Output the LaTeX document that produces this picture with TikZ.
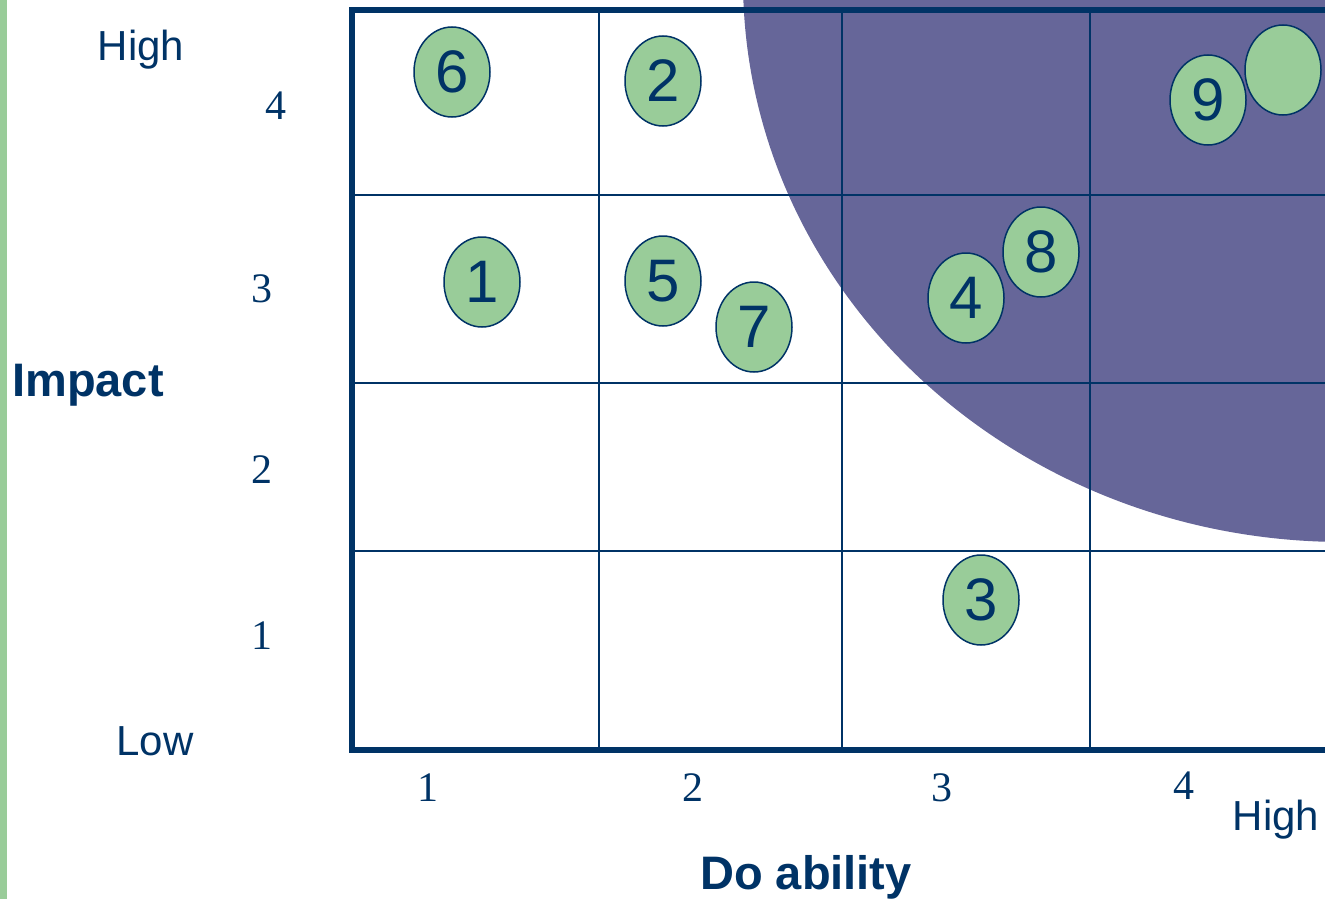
\documentclass[tikz,border=0pt]{standalone}
\usepackage{fontspec}
\setmainfont{Liberation Serif}
\setsansfont{Liberation Sans}
\usepackage{tikz}
\usetikzlibrary{shapes.geometric,positioning}
\definecolor{navy}{RGB}{0,51,102}
\definecolor{leafgreen}{RGB}{153,204,153}
\definecolor{slate}{RGB}{102,102,153}
\tikzset{
	bubble/.style={ellipse, draw=navy, line width=1.5pt, fill=leafgreen, minimum width=76pt, minimum height=90pt, inner sep=0pt, text=navy, font=\sffamily\fontsize{60}{60}\selectfont},
	ticklabel/.style={text=navy, font=\rmfamily\fontsize{42}{42}\selectfont},
	axislabel/.style={text=navy, font=\sffamily\fontsize{42}{42}\selectfont},
	axistitle/.style={text=navy, font=\sffamily\bfseries\fontsize{47}{47}\selectfont},
	gridline/.style={navy, line width=2.5pt},
	frameline/.style={navy, line width=6pt, line join=miter}
}

\begin{document}
\begin{tikzpicture}[x=1pt, y=-1pt]
					\useasboundingbox (0,0) rectangle (1325,899);
					\clip (0,0) rectangle (1325,899);
					% green strip on the left edge
					\fill[leafgreen] (0,0) rectangle (7,899);
					% priority zone
					\fill[slate] (1344,-20) ellipse (601 and 562);
					% grid
					\foreach \x in {599,842,1090} \draw[gridline] (\x,10) -- (\x,750);
					\foreach \y in {195,383,551} \draw[gridline] (352,\y) -- (1335,\y);
					\draw[frameline] (1335,10) -- (352,10) -- (352,750) -- (1335,750);
					% impact axis
					\node[axislabel] (impHigh) at (141,50) {High};
					\node[axislabel] (impLow) at (155,741) {Low};
					\node[axistitle] (impact) at (88,385) {Impact};
					\node[ticklabel] (iy4) at (276,106) {4};
					\node[ticklabel] (iy3) at (262,289) {3};
					\node[ticklabel] (iy2) at (262,470) {2};
					\node[ticklabel] (iy1) at (262,636) {1};
					% do ability axis
					\node[ticklabel] (dx1) at (428,788) {1};
					\node[ticklabel] (dx2) at (693,788) {2};
					\node[ticklabel] (dx3) at (942,788) {3};
					\node[ticklabel] (dx4) at (1184,786) {4};
					\node[axislabel] (doHigh) at (1276,820) {High};
					\node[axistitle] (doability) at (806,877) {Do ability};
					% ideas
					\node[bubble] (b6) at (452,72) {6};
					\node[bubble] (b2) at (663,81) {2};
					\node[bubble] (b1) at (482,282) {1};
					\node[bubble] (b5) at (663,281) {5};
					\node[bubble] (b7) at (754,327) {7};
					\node[bubble] (b4) at (966,298) {4};
					\node[bubble] (b8) at (1041,252) {8};
					\node[bubble] (b3) at (981,600) {3};
					\node[bubble] (b9) at (1208,100) {9};
					\node[bubble] (bx) at (1283,70) {};
				\end{tikzpicture}
\end{document}
